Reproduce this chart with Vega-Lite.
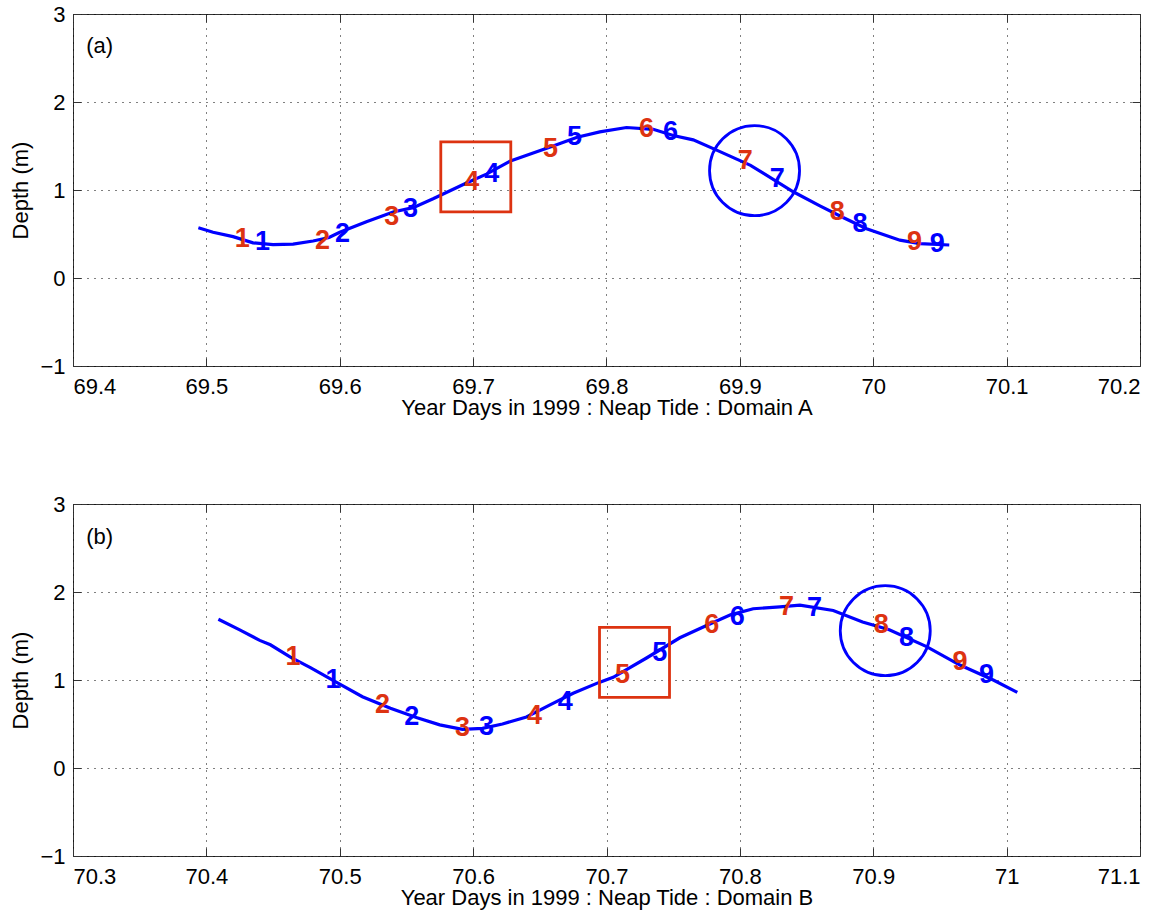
{
  "$schema": "https://vega.github.io/schema/vega-lite/v6.json",
  "background": "white",
  "padding": {"left": 9, "top": 2, "right": 10, "bottom": 5},
  "spacing": 73,
  "config": {
    "font": "Liberation Sans",
    "view": {"stroke": "#333333", "strokeWidth": 1},
    "axis": {
      "labelFont": "Liberation Sans", "labelFontSize": 22, "labelColor": "#000000",
      "titleFont": "Liberation Sans", "titleFontSize": 22, "titleFontWeight": "normal", "titleColor": "#000000",
      "domain": false,
      "grid": true, "gridColor": "#000000", "gridDash": [1, 6], "gridOpacity": 1, "gridWidth": 1,
      "tickColor": "#333333", "tickSize": -8, "tickWidth": 1
    },
    "axisX": {"titlePadding": 0, "labelPadding": 18},
    "axisY": {"titlePadding": 7, "labelPadding": 16}
  },
  "datasets": {
    "line_a": [
      {"day": 69.494, "depth": 0.57}, {"day": 69.505, "depth": 0.52}, {"day": 69.52, "depth": 0.47},
      {"day": 69.535, "depth": 0.40}, {"day": 69.55, "depth": 0.38}, {"day": 69.565, "depth": 0.385},
      {"day": 69.58, "depth": 0.42}, {"day": 69.592, "depth": 0.46}, {"day": 69.6, "depth": 0.52},
      {"day": 69.62, "depth": 0.64}, {"day": 69.64, "depth": 0.75}, {"day": 69.655, "depth": 0.8},
      {"day": 69.67, "depth": 0.9}, {"day": 69.695, "depth": 1.08}, {"day": 69.71, "depth": 1.18},
      {"day": 69.728, "depth": 1.33}, {"day": 69.745, "depth": 1.42}, {"day": 69.76, "depth": 1.5},
      {"day": 69.778, "depth": 1.6}, {"day": 69.795, "depth": 1.66}, {"day": 69.815, "depth": 1.71},
      {"day": 69.835, "depth": 1.69}, {"day": 69.85, "depth": 1.62}, {"day": 69.865, "depth": 1.57},
      {"day": 69.883, "depth": 1.45}, {"day": 69.908, "depth": 1.28}, {"day": 69.94, "depth": 0.98},
      {"day": 69.96, "depth": 0.82}, {"day": 69.977, "depth": 0.69}, {"day": 69.995, "depth": 0.56},
      {"day": 70.02, "depth": 0.43}, {"day": 70.035, "depth": 0.39}, {"day": 70.057, "depth": 0.375}
    ],
    "labels_a": [
      {"day": 69.527, "depth": 0.44, "num": "1", "series": "first"},
      {"day": 69.587, "depth": 0.42, "num": "2", "series": "first"},
      {"day": 69.639, "depth": 0.69, "num": "3", "series": "first"},
      {"day": 69.699, "depth": 1.09, "num": "4", "series": "first"},
      {"day": 69.758, "depth": 1.47, "num": "5", "series": "first"},
      {"day": 69.830, "depth": 1.69, "num": "6", "series": "first"},
      {"day": 69.904, "depth": 1.33, "num": "7", "series": "first"},
      {"day": 69.973, "depth": 0.75, "num": "8", "series": "first"},
      {"day": 70.031, "depth": 0.41, "num": "9", "series": "first"},
      {"day": 69.542, "depth": 0.41, "num": "1", "series": "second"},
      {"day": 69.602, "depth": 0.50, "num": "2", "series": "second"},
      {"day": 69.653, "depth": 0.78, "num": "3", "series": "second"},
      {"day": 69.714, "depth": 1.18, "num": "4", "series": "second"},
      {"day": 69.776, "depth": 1.60, "num": "5", "series": "second"},
      {"day": 69.848, "depth": 1.66, "num": "6", "series": "second"},
      {"day": 69.928, "depth": 1.13, "num": "7", "series": "second"},
      {"day": 69.990, "depth": 0.61, "num": "8", "series": "second"},
      {"day": 70.048, "depth": 0.39, "num": "9", "series": "second"}
    ],
    "square_a": [{"day": 69.702, "depth": 1.15}],
    "circle_a": [{"day": 69.911, "depth": 1.22}],
    "tag_a": [{"day": 69.42, "depth": 2.64, "tag": "(a)"}],
    "line_b": [
      {"day": 70.409, "depth": 1.69}, {"day": 70.425, "depth": 1.57}, {"day": 70.44, "depth": 1.45},
      {"day": 70.448, "depth": 1.40}, {"day": 70.463, "depth": 1.26}, {"day": 70.478, "depth": 1.14},
      {"day": 70.498, "depth": 0.97}, {"day": 70.517, "depth": 0.81}, {"day": 70.538, "depth": 0.68},
      {"day": 70.558, "depth": 0.57}, {"day": 70.575, "depth": 0.49}, {"day": 70.592, "depth": 0.44},
      {"day": 70.607, "depth": 0.45}, {"day": 70.622, "depth": 0.5}, {"day": 70.64, "depth": 0.58},
      {"day": 70.658, "depth": 0.72}, {"day": 70.675, "depth": 0.85}, {"day": 70.694, "depth": 0.97},
      {"day": 70.705, "depth": 1.03}, {"day": 70.73, "depth": 1.25}, {"day": 70.755, "depth": 1.48},
      {"day": 70.775, "depth": 1.62}, {"day": 70.793, "depth": 1.74}, {"day": 70.81, "depth": 1.81},
      {"day": 70.83, "depth": 1.83}, {"day": 70.845, "depth": 1.85}, {"day": 70.87, "depth": 1.79},
      {"day": 70.892, "depth": 1.66}, {"day": 70.912, "depth": 1.57}, {"day": 70.94, "depth": 1.38},
      {"day": 70.965, "depth": 1.17}, {"day": 70.99, "depth": 1.0}, {"day": 71.008, "depth": 0.86}
    ],
    "labels_b": [
      {"day": 70.465, "depth": 1.26, "num": "1", "series": "first"},
      {"day": 70.532, "depth": 0.72, "num": "2", "series": "first"},
      {"day": 70.592, "depth": 0.45, "num": "3", "series": "first"},
      {"day": 70.646, "depth": 0.59, "num": "4", "series": "first"},
      {"day": 70.712, "depth": 1.06, "num": "5", "series": "first"},
      {"day": 70.779, "depth": 1.63, "num": "6", "series": "first"},
      {"day": 70.835, "depth": 1.83, "num": "7", "series": "first"},
      {"day": 70.906, "depth": 1.63, "num": "8", "series": "first"},
      {"day": 70.965, "depth": 1.20, "num": "9", "series": "first"},
      {"day": 70.495, "depth": 1.00, "num": "1", "series": "second"},
      {"day": 70.554, "depth": 0.58, "num": "2", "series": "second"},
      {"day": 70.610, "depth": 0.47, "num": "3", "series": "second"},
      {"day": 70.669, "depth": 0.75, "num": "4", "series": "second"},
      {"day": 70.740, "depth": 1.31, "num": "5", "series": "second"},
      {"day": 70.798, "depth": 1.72, "num": "6", "series": "second"},
      {"day": 70.856, "depth": 1.82, "num": "7", "series": "second"},
      {"day": 70.925, "depth": 1.48, "num": "8", "series": "second"},
      {"day": 70.985, "depth": 1.06, "num": "9", "series": "second"}
    ],
    "square_b": [{"day": 70.721, "depth": 1.20}],
    "circle_b": [{"day": 70.909, "depth": 1.56}],
    "tag_b": [{"day": 70.32, "depth": 2.63, "tag": "(b)"}]
  },
  "vconcat": [
    {
      "width": 1067, "height": 352,
      "resolve": {"axis": {"x": "independent", "y": "independent"}},
      "layer": [
        {
          "data": {"name": "line_a"},
          "mark": {"type": "line", "color": "#0000ff", "strokeWidth": 3.2},
          "encoding": {
            "x": {"field": "day", "type": "quantitative", "scale": {"domain": [69.4, 70.2], "nice": false, "zero": false},
                  "axis": {"orient": "bottom", "values": [69.4, 69.5, 69.6, 69.7, 69.8, 69.9, 70, 70.1, 70.2], "format": "~g", "title": "Year Days in 1999 : Neap Tide : Domain A"}},
            "y": {"field": "depth", "type": "quantitative", "scale": {"domain": [-1, 3], "nice": false, "zero": false},
                  "axis": {"orient": "left", "values": [-1, 0, 1, 2, 3], "format": "~g", "title": "Depth (m)"}}
          }
        },
        {
          "data": {"name": "labels_a"},
          "mark": {"type": "text", "font": "Liberation Sans", "fontWeight": "bold", "fontSize": 27},
          "encoding": {
            "x": {"field": "day", "type": "quantitative", "axis": null},
            "y": {"field": "depth", "type": "quantitative", "axis": null},
            "text": {"field": "num"},
            "color": {"field": "series", "type": "nominal", "scale": {"domain": ["first", "second"], "range": ["#dd3311", "#0000ff"]}, "legend": null}
          }
        },
        {
          "data": {"name": "square_a"},
          "mark": {"type": "point", "shape": "square", "size": 4900, "filled": false, "color": "#dd3311", "strokeWidth": 2.8, "opacity": 1},
          "encoding": {
            "x": {"field": "day", "type": "quantitative",
                  "axis": {"orient": "top", "values": [69.4, 69.5, 69.6, 69.7, 69.8, 69.9, 70, 70.1, 70.2], "labels": false, "grid": false, "title": null}},
            "y": {"field": "depth", "type": "quantitative",
                  "axis": {"orient": "right", "values": [-1, 0, 1, 2, 3], "labels": false, "grid": false, "title": null}}
          }
        },
        {
          "data": {"name": "circle_a"},
          "mark": {"type": "point", "shape": "circle", "size": 8100, "filled": false, "color": "#0000ff", "strokeWidth": 2.8, "opacity": 1},
          "encoding": {
            "x": {"field": "day", "type": "quantitative", "axis": null},
            "y": {"field": "depth", "type": "quantitative", "axis": null}
          }
        },
        {
          "data": {"name": "tag_a"},
          "mark": {"type": "text", "font": "Liberation Sans", "fontSize": 22, "color": "#000000"},
          "encoding": {
            "x": {"field": "day", "type": "quantitative", "axis": null},
            "y": {"field": "depth", "type": "quantitative", "axis": null},
            "text": {"field": "tag"}
          }
        }
      ]
    },
    {
      "width": 1067, "height": 352,
      "resolve": {"axis": {"x": "independent", "y": "independent"}},
      "layer": [
        {
          "data": {"name": "line_b"},
          "mark": {"type": "line", "color": "#0000ff", "strokeWidth": 3.2},
          "encoding": {
            "x": {"field": "day", "type": "quantitative", "scale": {"domain": [70.3, 71.1], "nice": false, "zero": false},
                  "axis": {"orient": "bottom", "values": [70.3, 70.4, 70.5, 70.6, 70.7, 70.8, 70.9, 71, 71.1], "format": "~g", "title": "Year Days in 1999 : Neap Tide : Domain B"}},
            "y": {"field": "depth", "type": "quantitative", "scale": {"domain": [-1, 3], "nice": false, "zero": false},
                  "axis": {"orient": "left", "values": [-1, 0, 1, 2, 3], "format": "~g", "title": "Depth (m)"}}
          }
        },
        {
          "data": {"name": "labels_b"},
          "mark": {"type": "text", "font": "Liberation Sans", "fontWeight": "bold", "fontSize": 27},
          "encoding": {
            "x": {"field": "day", "type": "quantitative", "axis": null},
            "y": {"field": "depth", "type": "quantitative", "axis": null},
            "text": {"field": "num"},
            "color": {"field": "series", "type": "nominal", "scale": {"domain": ["first", "second"], "range": ["#dd3311", "#0000ff"]}, "legend": null}
          }
        },
        {
          "data": {"name": "square_b"},
          "mark": {"type": "point", "shape": "square", "size": 4900, "filled": false, "color": "#dd3311", "strokeWidth": 2.8, "opacity": 1},
          "encoding": {
            "x": {"field": "day", "type": "quantitative",
                  "axis": {"orient": "top", "values": [70.3, 70.4, 70.5, 70.6, 70.7, 70.8, 70.9, 71, 71.1], "labels": false, "grid": false, "title": null}},
            "y": {"field": "depth", "type": "quantitative",
                  "axis": {"orient": "right", "values": [-1, 0, 1, 2, 3], "labels": false, "grid": false, "title": null}}
          }
        },
        {
          "data": {"name": "circle_b"},
          "mark": {"type": "point", "shape": "circle", "size": 8100, "filled": false, "color": "#0000ff", "strokeWidth": 2.8, "opacity": 1},
          "encoding": {
            "x": {"field": "day", "type": "quantitative", "axis": null},
            "y": {"field": "depth", "type": "quantitative", "axis": null}
          }
        },
        {
          "data": {"name": "tag_b"},
          "mark": {"type": "text", "font": "Liberation Sans", "fontSize": 22, "color": "#000000"},
          "encoding": {
            "x": {"field": "day", "type": "quantitative", "axis": null},
            "y": {"field": "depth", "type": "quantitative", "axis": null},
            "text": {"field": "tag"}
          }
        }
      ]
    }
  ]
}
